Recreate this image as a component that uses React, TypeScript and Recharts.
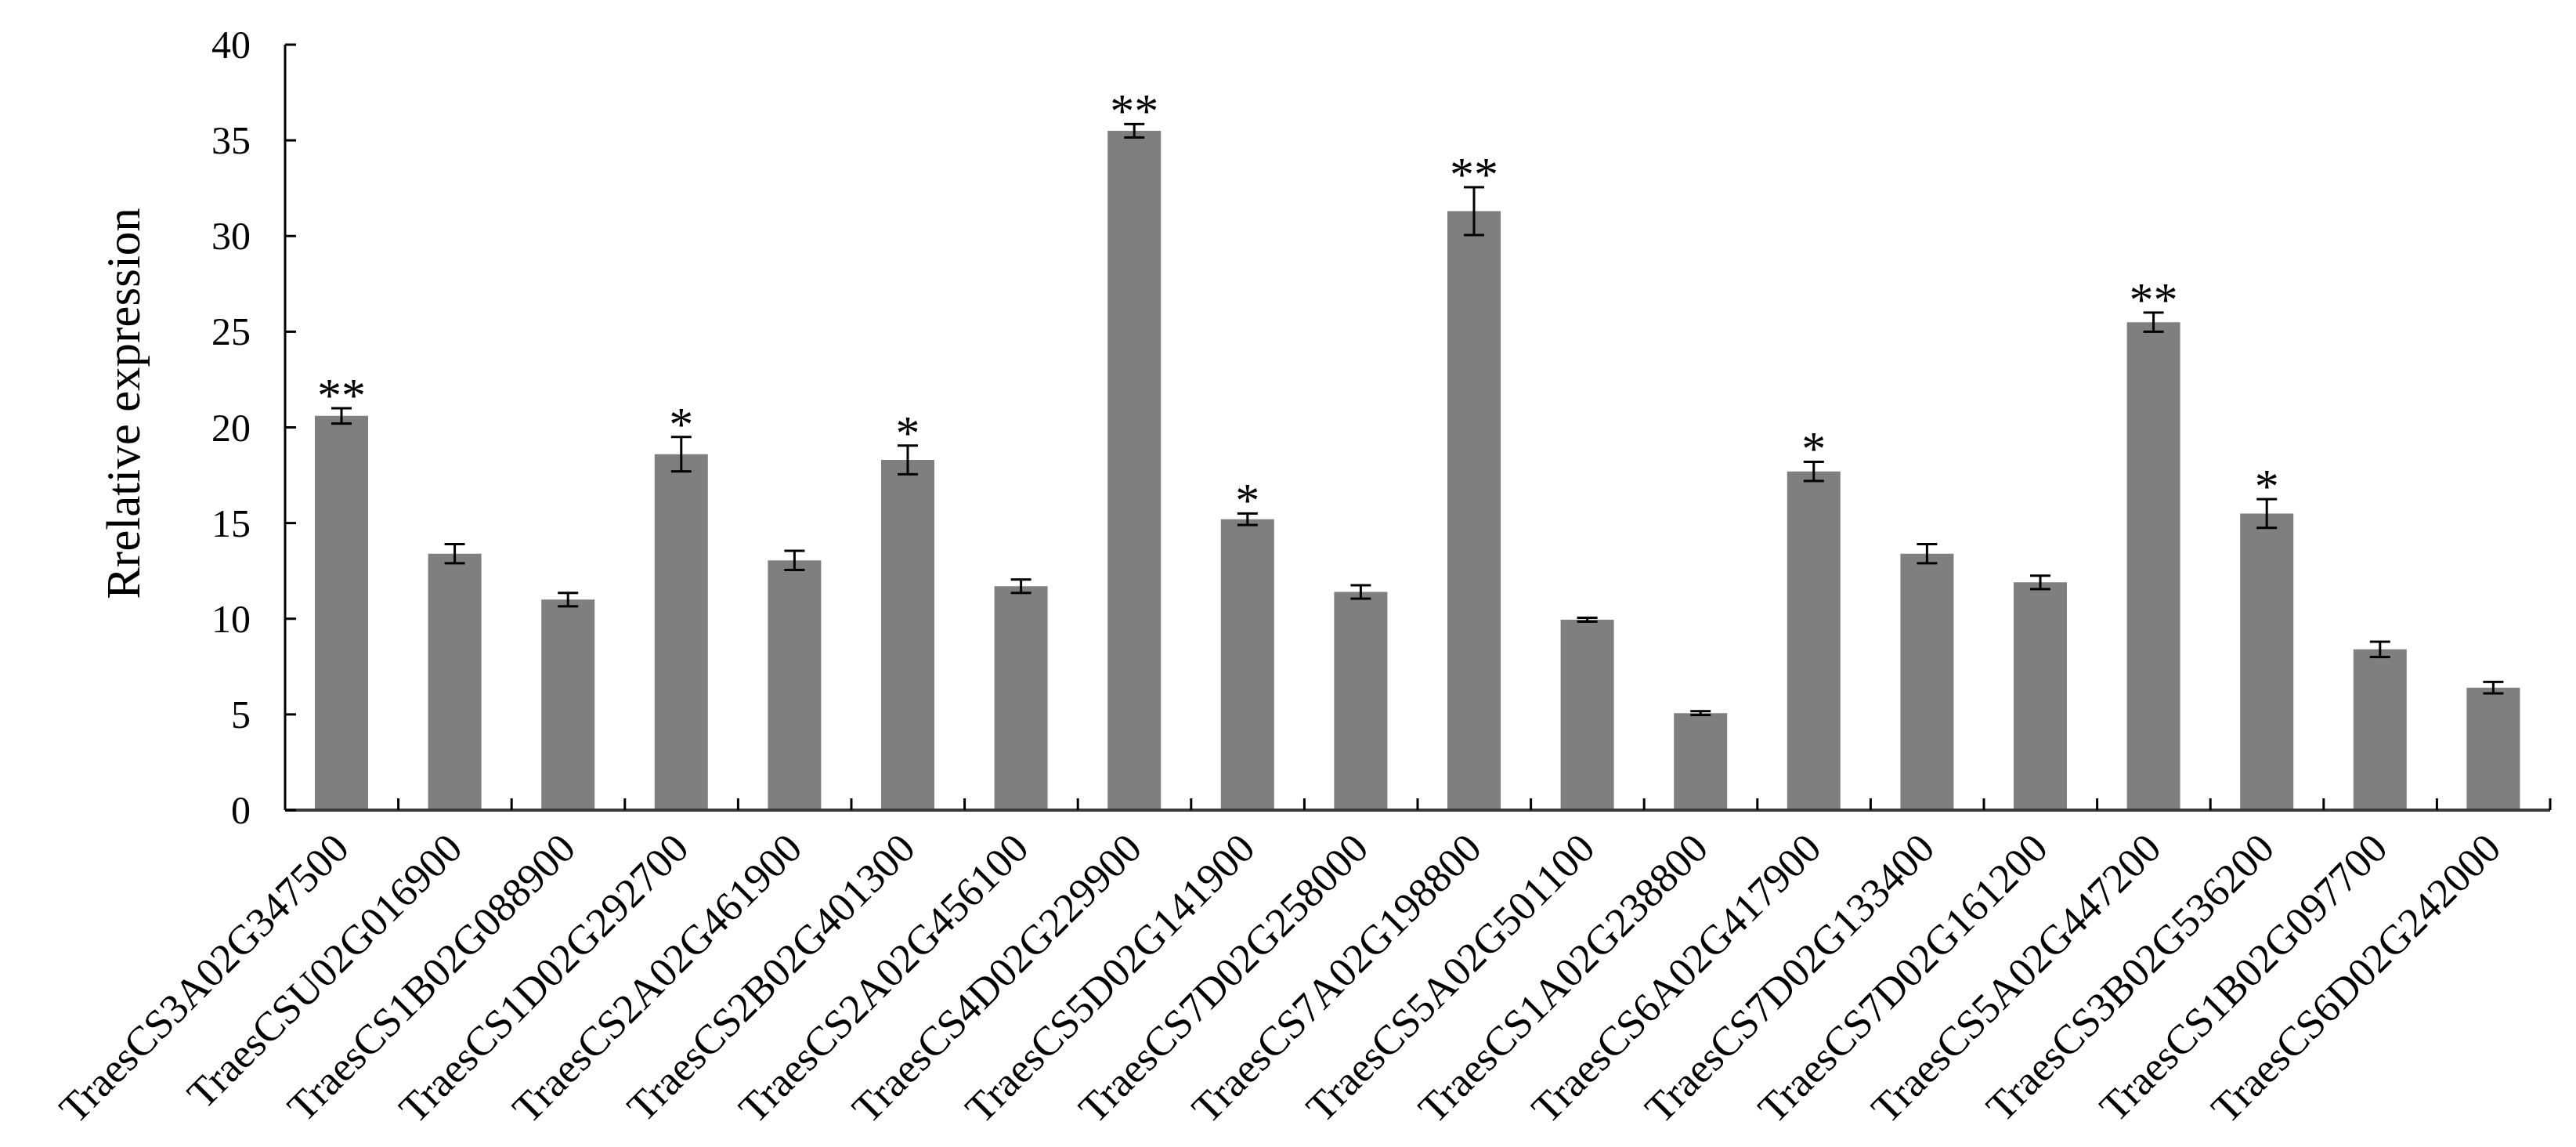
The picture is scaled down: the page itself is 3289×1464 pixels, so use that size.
import React from 'react';
import { BarChart, Bar, XAxis, YAxis, ErrorBar, LabelList } from 'recharts';

const genes = [
  'TraesCS3A02G347500',
  'TraesCSU02G016900',
  'TraesCS1B02G088900',
  'TraesCS1D02G292700',
  'TraesCS2A02G461900',
  'TraesCS2B02G401300',
  'TraesCS2A02G456100',
  'TraesCS4D02G229900',
  'TraesCS5D02G141900',
  'TraesCS7D02G258000',
  'TraesCS7A02G198800',
  'TraesCS5A02G501100',
  'TraesCS1A02G238800',
  'TraesCS6A02G417900',
  'TraesCS7D02G133400',
  'TraesCS7D02G161200',
  'TraesCS5A02G447200',
  'TraesCS3B02G536200',
  'TraesCS1B02G097700',
  'TraesCS6D02G242000',
];

const expression = [20.6, 13.4, 11.0, 18.6, 13.05, 18.3, 11.7, 35.5, 15.2, 11.4, 31.3, 9.95, 5.07, 17.7, 13.4, 11.9, 25.5, 15.5, 8.4, 6.4];
const errors = [0.4, 0.5, 0.35, 0.9, 0.5, 0.75, 0.35, 0.35, 0.3, 0.35, 1.25, 0.1, 0.1, 0.5, 0.5, 0.35, 0.5, 0.75, 0.4, 0.3];
const marks = ['**', '', '', '*', '', '*', '', '**', '*', '', '**', '', '', '*', '', '', '**', '*', '', ''];
const yTicks = [0, 5, 10, 15, 20, 25, 30, 35, 40];

const data = genes.map((name, i) => ({ name, value: expression[i], err: errors[i] }));

const W = 3289;
const H = 1464;
const MARGIN = { top: 57, right: 33, left: 0, bottom: 0 };
const Y_W = 364;
const X_H = 430;
const BAND = (W - MARGIN.left - MARGIN.right - Y_W) / genes.length;
const FONT = '"Liberation Serif", "Times New Roman", serif';

const YTick = (props: any) => {
  const { x, y, payload } = props;
  return (
    <g>
      <line x1={x + 44} x2={x + 58} y1={y} y2={y} stroke="#000" strokeWidth={3} />
      <text x={x} y={y} textAnchor="end" dominantBaseline="central" fontFamily={FONT} fontSize={50} fill="#000">
        {payload.value}
      </text>
    </g>
  );
};

const XTick = (props: any) => {
  const { x, y, payload } = props;
  const tx = x + 12;
  const ty = y + 52;
  return (
    <g>
      <line x1={x + BAND / 2} x2={x + BAND / 2} y1={y} y2={y - 15} stroke="#000" strokeWidth={3} />
      <text
        x={tx}
        y={ty}
        textAnchor="end"
        transform={`rotate(-45, ${tx}, ${ty})`}
        fontFamily={FONT}
        fontSize={53}
        fill="#000"
      >
        {payload.value}
      </text>
    </g>
  );
};

const Stars = (props: any) => {
  const vb = props.viewBox ?? props;
  const { x, y, width, height } = vb;
  const i = props.index;
  if (!marks[i]) return null;
  const k = height / expression[i];
  const top = y - errors[i] * k;
  return (
    <text x={x + width / 2} y={top + 4} textAnchor="middle" fontFamily={FONT} fontSize={62} fill="#000">
      {marks[i]}
    </text>
  );
};

export default function App() {
  return (
    <div style={{ position: 'absolute', left: 0, top: 0, background: '#fff' }}>
      <BarChart width={W} height={H} data={data} margin={MARGIN}>
        <XAxis
          dataKey="name"
          interval={0}
          height={X_H}
          tickSize={0}
          tickMargin={0}
          tick={<XTick />}
          axisLine={{ stroke: '#3a3a3a', strokeWidth: 4 }}
        />
        <YAxis
          domain={[0, 40]}
          ticks={yTicks}
          width={Y_W}
          tickSize={0}
          tickMargin={44}
          tick={<YTick />}
          axisLine={{ stroke: '#000', strokeWidth: 3 }}
          label={() => (
            <text
              x={157}
              y={515}
              transform="rotate(-90, 157, 515)"
              textAnchor="middle"
              dominantBaseline="central"
              fontFamily={FONT}
              fontSize={61}
              fill="#000"
            >
              Rrelative expression
            </text>
          )}
        />
        <Bar dataKey="value" fill="#7f7f7f" barSize={68} isAnimationActive={false}>
          <ErrorBar dataKey="err" width={13} strokeWidth={3} stroke="#000" direction="y" isAnimationActive={false} />
          <LabelList dataKey="value" content={<Stars />} />
        </Bar>
      </BarChart>
    </div>
  );
}
